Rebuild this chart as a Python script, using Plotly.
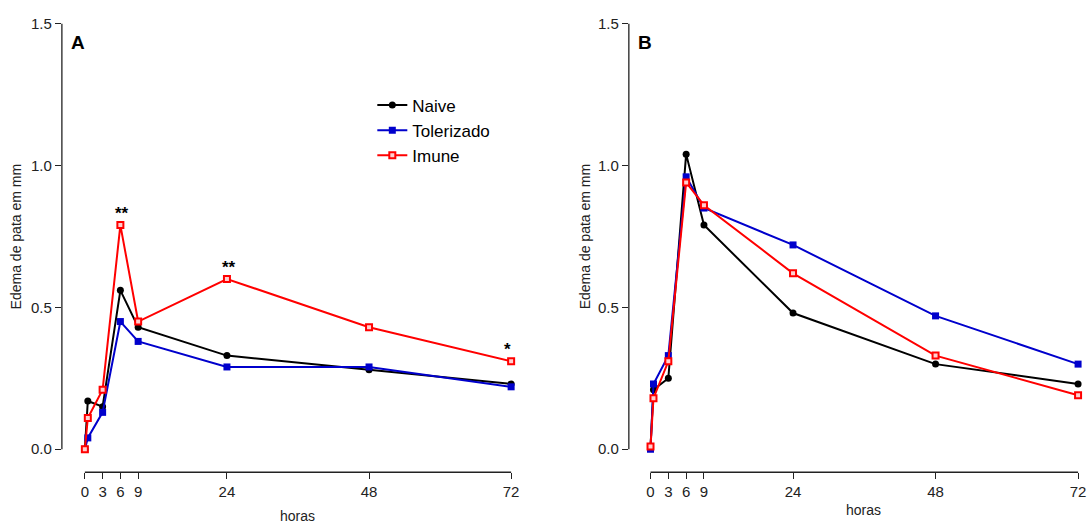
import plotly.graph_objects as go

horas = [0, 0.5, 3, 6, 9, 24, 48, 72]
xticks = [0, 3, 6, 9, 24, 48, 72]
yticks = [0, 0.5, 1.0, 1.5]
ytick_labels = ["0.0", "0.5", "1.0", "1.5"]

a_naive = [0.0, 0.17, 0.15, 0.56, 0.43, 0.33, 0.28, 0.23]
a_toler = [0.0, 0.04, 0.13, 0.45, 0.38, 0.29, 0.29, 0.22]
a_imune = [0.0, 0.11, 0.21, 0.79, 0.45, 0.60, 0.43, 0.31]

b_naive = [0.01, 0.21, 0.25, 1.04, 0.79, 0.48, 0.30, 0.23]
b_toler = [0.0, 0.23, 0.33, 0.96, 0.85, 0.72, 0.47, 0.30]
b_imune = [0.01, 0.18, 0.31, 0.94, 0.86, 0.62, 0.33, 0.19]

sig_x = [6, 24, 72]
sig_y = [0.79, 0.60, 0.31]
sig_txt = ["**", "**", "*"]

W, H = 1090, 524
FONT = "Liberation Sans, Arial, sans-serif"

def px_x(p):
    return p / W

def px_y(p):
    s = (p - 8.4) / 0.9836
    return 1 - s / H

styles = {
    "Naive": dict(color="black", marker=dict(symbol="circle", size=7, color="black")),
    "Tolerizado": dict(color="#0000CC", marker=dict(symbol="square", size=7, color="#0000CC")),
    "Imune": dict(color="#FF0000", marker=dict(symbol="square", size=6, color="#FFD0D0",
                                                  line=dict(color="#FF0000", width=2))),
}

fig = go.Figure()
for panel, (xa, ya, data) in enumerate([
    ("x", "y", [("Naive", a_naive), ("Tolerizado", a_toler), ("Imune", a_imune)]),
    ("x2", "y2", [("Naive", b_naive), ("Tolerizado", b_toler), ("Imune", b_imune)]),
]):
    for name, vals in data:
        st = styles[name]
        fig.add_trace(go.Scatter(
            x=horas, y=vals, name=name, mode="lines+markers",
            line=dict(color=st["color"], width=2), marker=st["marker"],
            xaxis=xa, yaxis=ya, showlegend=(panel == 0), cliponaxis=False,
        ))

axfont = dict(family=FONT, size=15, color="#222")
common_x = dict(tickmode="array", tickvals=xticks, ticktext=[str(t) for t in xticks],
                ticks="outside", ticklen=6, tickcolor="#222", showline=False,
                showgrid=False, zeroline=False, tickfont=axfont)
common_y = dict(tickmode="array", tickvals=yticks, ticktext=ytick_labels,
                ticks="outside", ticklen=6, tickcolor="#222", showline=False,
                showgrid=False, zeroline=False, tickfont=axfont, range=[-0.081, 1.5])

ydom = [px_y(472), px_y(23)]
fig.update_layout(
    width=W, height=H, margin=dict(l=0, r=0, t=0, b=0),
    paper_bgcolor="white", plot_bgcolor="white",
    font=dict(family=FONT, color="black"),
    xaxis=dict(domain=[px_x(62), px_x(518)], range=[-3.88, 73], anchor="y", **common_x),
    yaxis=dict(domain=ydom, anchor="x", **common_y),
    xaxis2=dict(domain=[px_x(630), px_x(1086)], range=[-3.65, 73], anchor="y2", **common_x),
    yaxis2=dict(domain=ydom, anchor="x2", **common_y),
    legend=dict(x=px_x(373), y=px_y(87), xanchor="left", yanchor="top",
                font=dict(family=FONT, size=17, color="black"),
                bgcolor="rgba(0,0,0,0)", tracegroupgap=0, itemwidth=30),
)

shapes = []
for xr, yr in [("x", "y"), ("x2", "y2")]:
    shapes.append(dict(type="line", xref=xr, yref=yr + " domain", x0=xticks[0], x1=xticks[-1],
                       y0=0, y1=0, line=dict(color="#222", width=1.3)))
    shapes.append(dict(type="line", xref=xr + " domain", yref=yr, x0=0, x1=0,
                       y0=yticks[0], y1=yticks[-1], line=dict(color="#222", width=1.3)))
fig.update_layout(shapes=shapes)

ann = []
for sx, sy, st in zip(sig_x, sig_y, sig_txt):
    ann.append(dict(x=sx, y=sy, xref="x", yref="y", text="<b>" + st + "</b>", showarrow=False,
                    yanchor="bottom", xshift=(-4 if sx == 72 else 2),
                    font=dict(family=FONT, size=17, color="black")))
ann += [
    dict(x=px_x(78), y=px_y(42), xref="paper", yref="paper", text="<b>A</b>", showarrow=False,
         xanchor="center", yanchor="middle", font=dict(family=FONT, size=19, color="black")),
    dict(x=px_x(646), y=px_y(42), xref="paper", yref="paper", text="<b>B</b>", showarrow=False,
         xanchor="center", yanchor="middle", font=dict(family=FONT, size=19, color="black")),
    dict(x=px_x(298), y=px_y(516), xref="paper", yref="paper", text="horas", showarrow=False,
         xanchor="center", yanchor="middle", font=dict(family=FONT, size=14, color="#222")),
    dict(x=px_x(865), y=px_y(510), xref="paper", yref="paper", text="horas", showarrow=False,
         xanchor="center", yanchor="middle", font=dict(family=FONT, size=14, color="#222")),
    dict(x=px_x(16), y=px_y(236), xref="paper", yref="paper", text="Edema de pata em mm",
         showarrow=False, textangle=-90, xanchor="center", yanchor="middle",
         font=dict(family=FONT, size=14, color="#222")),
    dict(x=px_x(586), y=px_y(236), xref="paper", yref="paper", text="Edema de pata em mm",
         showarrow=False, textangle=-90, xanchor="center", yanchor="middle",
         font=dict(family=FONT, size=14, color="#222")),
]
fig.update_layout(annotations=ann)

fig.write_html("out.html")
